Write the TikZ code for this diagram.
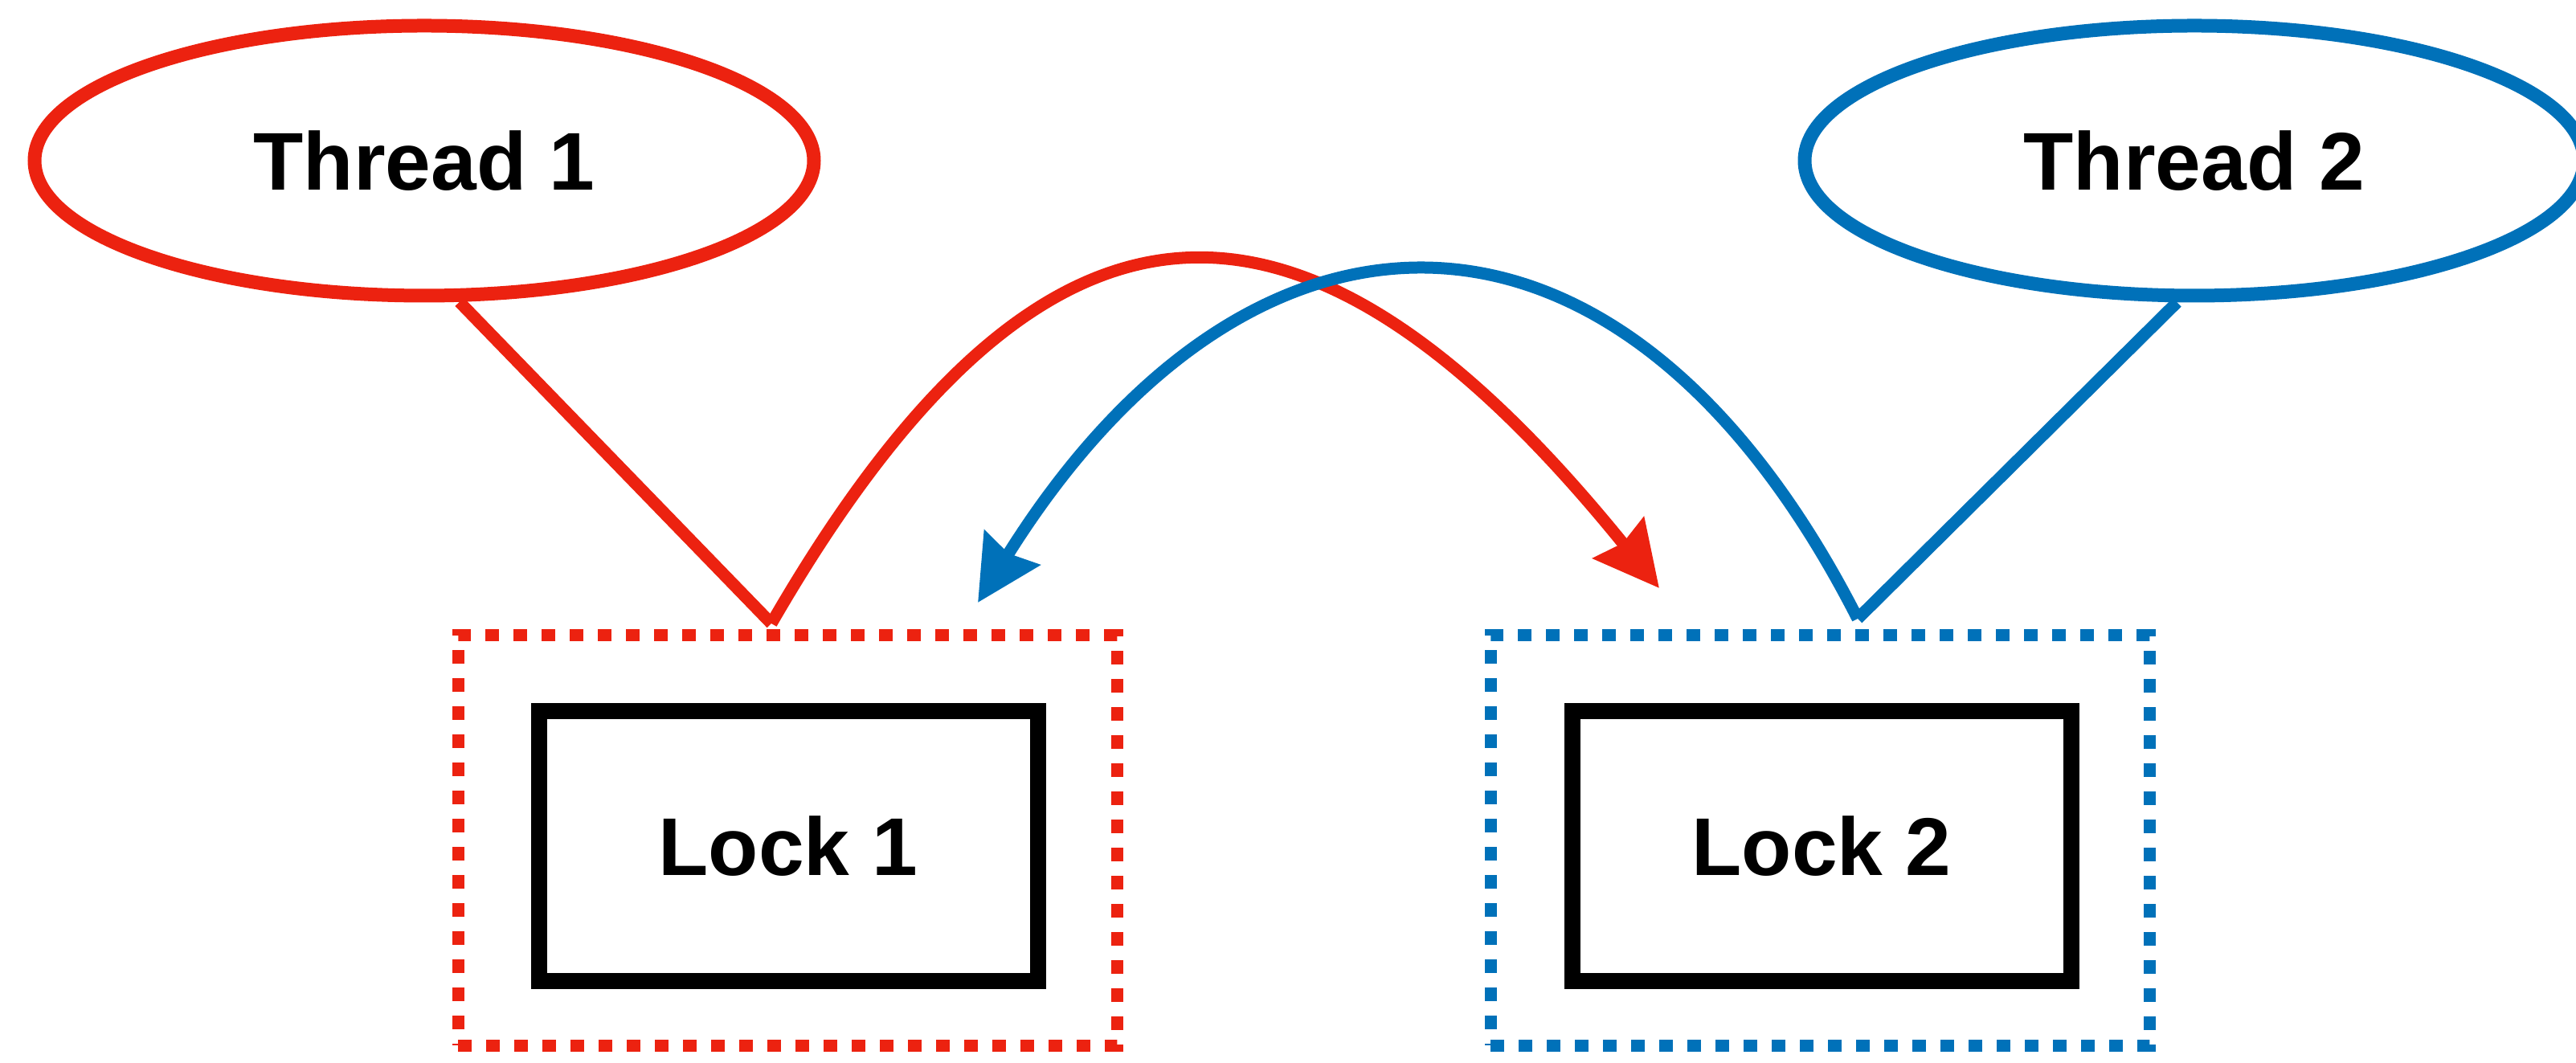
\documentclass[tikz,border=0pt]{standalone}
\usepackage{fontspec}
\setmainfont{Liberation Sans}
\usetikzlibrary{shapes.geometric,arrows.meta}
\definecolor{tred}{RGB}{236,34,16}
\definecolor{tblue}{RGB}{0,113,185}

\begin{document}
\begin{tikzpicture}[
  thread/.style={ellipse,draw,line width=0.17cm,minimum width=9.7cm,minimum height=3.36cm,inner sep=0pt,font=\fontsize{29}{35}\selectfont\bfseries},
  lockbox/.style={rectangle,draw,line width=0.2cm,minimum width=6.21cm,minimum height=3.36cm,inner sep=0pt,font=\fontsize{29}{35}\selectfont\bfseries},
  holder/.style={rectangle,draw,line width=0.15cm,dash pattern=on 0.17cm off 0.18cm,minimum width=8.2cm,minimum height=5.11cm,inner sep=0pt},
  grab/.style={line width=0.15cm,-{Stealth[length=0.8cm,width=0.8cm,inset=0.08cm]}}]
\useasboundingbox (0,0) rectangle (32.06,13.23);
\node[holder,draw=tred] (H1) at (9.80,2.77) {};
\node[holder,draw=tblue] (H2) at (22.65,2.77) {};
\node[lockbox] (L1) at (9.81,2.70) {Lock 1};
\node[lockbox] (L2) at (22.67,2.70) {Lock 2};
\node[thread,draw=tred] (T1) at (5.28,11.23) {Thread 1};
\node[thread,draw=tblue] (T2) at (27.31,11.23) {Thread 2};
\coordinate (A) at (9.60,5.47);
\coordinate (B) at (23.12,5.53);
\coordinate (a) at (20.65,5.91);
\coordinate (b) at (12.17,5.73);
\path[tred,line width=0.15cm] (T1.-76) edge (A);
\path[tblue,line width=0.15cm] (T2.-97) edge (B);
\path[grab,tred] (A) edge[out=60,in=129,looseness=1.6] (a);
\path[grab,tblue] (B) edge[out=117,in=58,looseness=1.5] (b);
\end{tikzpicture}
\end{document}
